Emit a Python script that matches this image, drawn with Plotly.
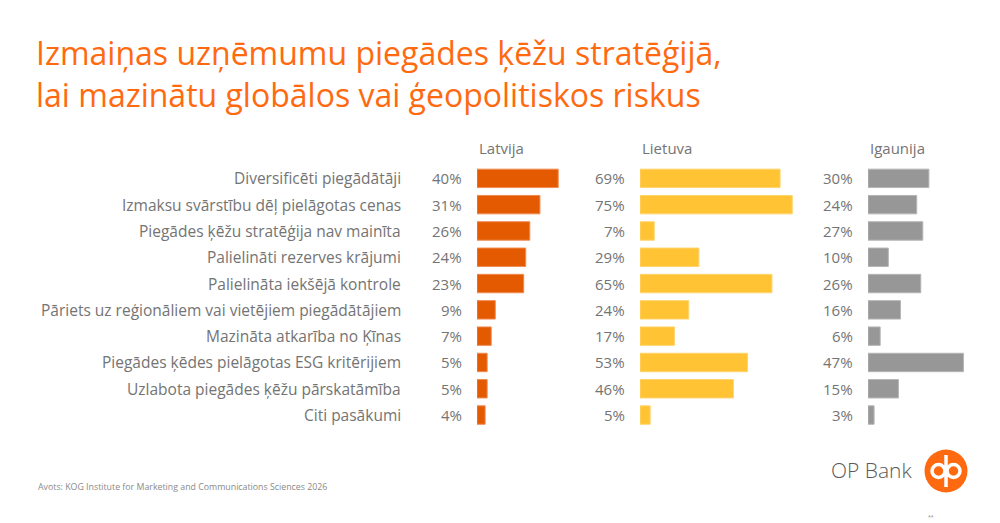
import plotly.graph_objects as go

categories = [
    "Diversificēti piegādātāji",
    "Izmaksu svārstību dēļ pielāgotas cenas",
    "Piegādes ķēžu stratēģija nav mainīta",
    "Palielināti rezerves krājumi",
    "Palielināta iekšējā kontrole",
    "Pāriets uz reģionāliem vai vietējiem piegādātājiem",
    "Mazināta atkarība no Ķīnas",
    "Piegādes ķēdes pielāgotas ESG kritērijiem",
    "Uzlabota piegādes ķēžu pārskatāmība",
    "Citi pasākumi",
]
countries = ["Latvija", "Lietuva", "Igaunija"]
latvija = [40, 31, 26, 24, 23, 9, 7, 5, 5, 4]
lietuva = [69, 75, 7, 29, 65, 24, 17, 53, 46, 5]
igaunija = [30, 24, 27, 10, 26, 16, 6, 47, 15, 3]

title_lines = ["Izmaiņas uzņēmumu piegādes ķēžu stratēģijā,",
               "lai mazinātu globālos vai ģeopolitiskos riskus"]
source_text = "Avots: KOG Institute for Marketing and Communications Sciences 2026"

W, H = 1000, 523
FONT = "'Open Sans', Roboto, sans-serif"
GRAY = "#747474"
colors = ["#E35A00", "#FFC333", "#979797"]
edge = ["#F08A50", "#FFD46E", "#B5B5B5"]
series = [latvija, lietuva, igaunija]
axes = ["x", "x2", "x3"]

def px(x):
    return x / W

def py(y):
    return 1 - y / H

PXPER = 2.03
domains = [(477, 620), (640, 850), (868, 995)]

fig = go.Figure()
for i, (vals, ax) in enumerate(zip(series, axes)):
    fig.add_trace(go.Bar(
        x=vals, y=categories, orientation="h", xaxis=ax, yaxis="y",
        marker=dict(color=colors[i], line=dict(color=edge[i], width=1)),
        width=0.7, hoverinfo="skip", showlegend=False,
    ))

layout = dict(
    width=W, height=H, margin=dict(l=0, r=0, t=0, b=0),
    paper_bgcolor="white", plot_bgcolor="white",
    font=dict(family=FONT, color=GRAY),
    yaxis=dict(domain=[py(428.2), py(165.2)], anchor="x", autorange="reversed",
               showticklabels=False, showgrid=False, zeroline=False,
               categoryorder="array", categoryarray=categories),
)
for i, ax in enumerate(axes):
    d0, d1 = domains[i]
    key = "xaxis" if i == 0 else f"xaxis{i+1}"
    layout[key] = dict(domain=[px(d0), px(d1)], range=[0, (d1 - d0) / PXPER],
                       anchor="y", visible=False, fixedrange=True)
fig.update_layout(**layout)

def f(size, color=GRAY, weight=400):
    return dict(size=size, color=color, family=FONT, weight=weight)

ann = []
for c in categories:
    ann.append(dict(x=px(403), xref="paper", y=c, yref="y", text=c,
                    xanchor="right", yanchor="middle", showarrow=False, font=f(15.5)))
for i, (vals, ax) in enumerate(zip(series, axes)):
    for c, v in zip(categories, vals):
        ann.append(dict(x=0, xref=ax, y=c, yref="y", text=f"{v}%",
                        xanchor="right", yanchor="middle", xshift=-13,
                        showarrow=False, font=f(15)))
    ann.append(dict(x=0, xref=f"{ax} domain", y=py(148), yref="paper",
                    text=countries[i], xanchor="left", yanchor="middle",
                    showarrow=False, font=f(15)))
for k, line in enumerate(title_lines):
    ann.append(dict(x=px(34), xref="paper", y=py(53 + 42 * k), yref="paper",
                    text=line, xanchor="left", yanchor="middle", showarrow=False,
                    font=f(32, "#FF6A10")))
ann.append(dict(x=px(36), xref="paper", y=py(487), yref="paper", text=source_text,
                xanchor="left", yanchor="middle", showarrow=False,
                font=f(8.8, "#8A8A8A")))
ann.append(dict(x=px(914), xref="paper", y=py(470), yref="paper", text="OP Bank",
                xanchor="right", yanchor="middle", showarrow=False,
                font=f(21, "#5A5A5A", 300)))
ann.append(dict(x=px(931), xref="paper", y=py(517), yref="paper", text="**",
                xanchor="center", yanchor="middle", showarrow=False,
                font=f(5, "#888888")))
fig.update_layout(annotations=ann)

cx, cy, r = 946, 471, 21.5
shapes = [dict(type="circle", xref="paper", yref="paper",
               x0=px(cx - r), x1=px(cx + r), y0=py(cy + r), y1=py(cy - r),
               fillcolor="#FF6A10", line=dict(width=0))]
for ox in (-7.5, 7.5):
    rr = 6.5
    shapes.append(dict(type="circle", xref="paper", yref="paper",
                       x0=px(cx + ox - rr), x1=px(cx + ox + rr),
                       y0=py(cy + rr), y1=py(cy - rr),
                       fillcolor="rgba(0,0,0,0)", line=dict(color="white", width=3.5)))
shapes.append(dict(type="line", xref="paper", yref="paper",
                   x0=px(cx), x1=px(cx), y0=py(cy + 16), y1=py(cy - 16),
                   line=dict(color="white", width=3.5)))
fig.update_layout(shapes=shapes)

fig.write_html("out.html")
